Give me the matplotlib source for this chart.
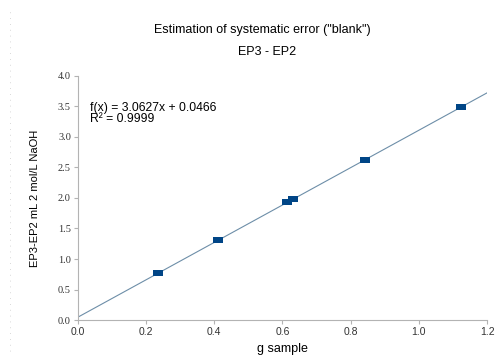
import matplotlib
matplotlib.use("Agg")
import matplotlib.pyplot as plt
import numpy as np

plt.rcParams['font.family'] = ['Liberation Sans', 'DejaVu Sans']

x_vals = [0.235, 0.41, 0.613, 0.63, 0.843, 1.123]
y_vals = [0.77, 1.31, 1.93, 1.99, 2.62, 3.49]
slope = 3.0627
intercept = 0.0466
x_ticks = [0.0, 0.2, 0.4, 0.6, 0.8, 1.0, 1.2]
y_ticks = [0.0, 0.5, 1.0, 1.5, 2.0, 2.5, 3.0, 3.5, 4.0]

fig = plt.figure(figsize=(4.99, 3.58), dpi=100)
ax = fig.add_axes([0.156, 0.106, 0.82, 0.682])

xl = np.array([0.0, 1.2])
ax.plot(xl, slope * xl + intercept, color='#6d8ea8', lw=0.8, zorder=2)
rect = [(-1, -0.68), (1, -0.68), (1, 0.68), (-1, 0.68), (-1, -0.68)]
ax.scatter(x_vals, y_vals, marker=rect, s=48, color='#004586', zorder=3, linewidths=0)

ax.set_xlim(0, 1.2)
ax.set_ylim(0, 4.0)
ax.set_xticks(x_ticks)
ax.set_yticks(y_ticks)
ax.set_xticklabels([f"{v:.1f}" for v in x_ticks], fontsize=7.5)
ax.set_yticklabels([f"{v:.1f}" for v in y_ticks], fontsize=7.5, family='Liberation Serif')
for s in ['top', 'right']:
    ax.spines[s].set_visible(False)
for s in ['left', 'bottom']:
    ax.spines[s].set_color('#b3b3b3')
    ax.spines[s].set_linewidth(0.8)
ax.tick_params(axis='both', colors='#b3b3b3', length=3, width=0.8, labelcolor='#333333', pad=2)

ax.set_xlabel('g sample', fontsize=9, labelpad=4)
ax.set_ylabel('EP3-EP2 mL 2 mol/L NaOH', fontsize=8, labelpad=13)

ax.text(0.037, 3.39, 'f(x) = 3.0627x + 0.0466\nR² = 0.9999', fontsize=8.7,
        va='center', ha='left', linespacing=0.9)

fig.text(0.526, 0.916, 'Estimation of systematic error ("blank")', fontsize=9, ha='center', va='center')
fig.text(0.535, 0.854, 'EP3 - EP2', fontsize=9, ha='center', va='center')

fig.add_artist(plt.Line2D([0.02, 0.02], [0.02, 0.98], transform=fig.transFigure,
                          color='#cccccc', lw=0.6, ls=(0, (1, 6))))

fig.savefig('out.png', dpi=100)
